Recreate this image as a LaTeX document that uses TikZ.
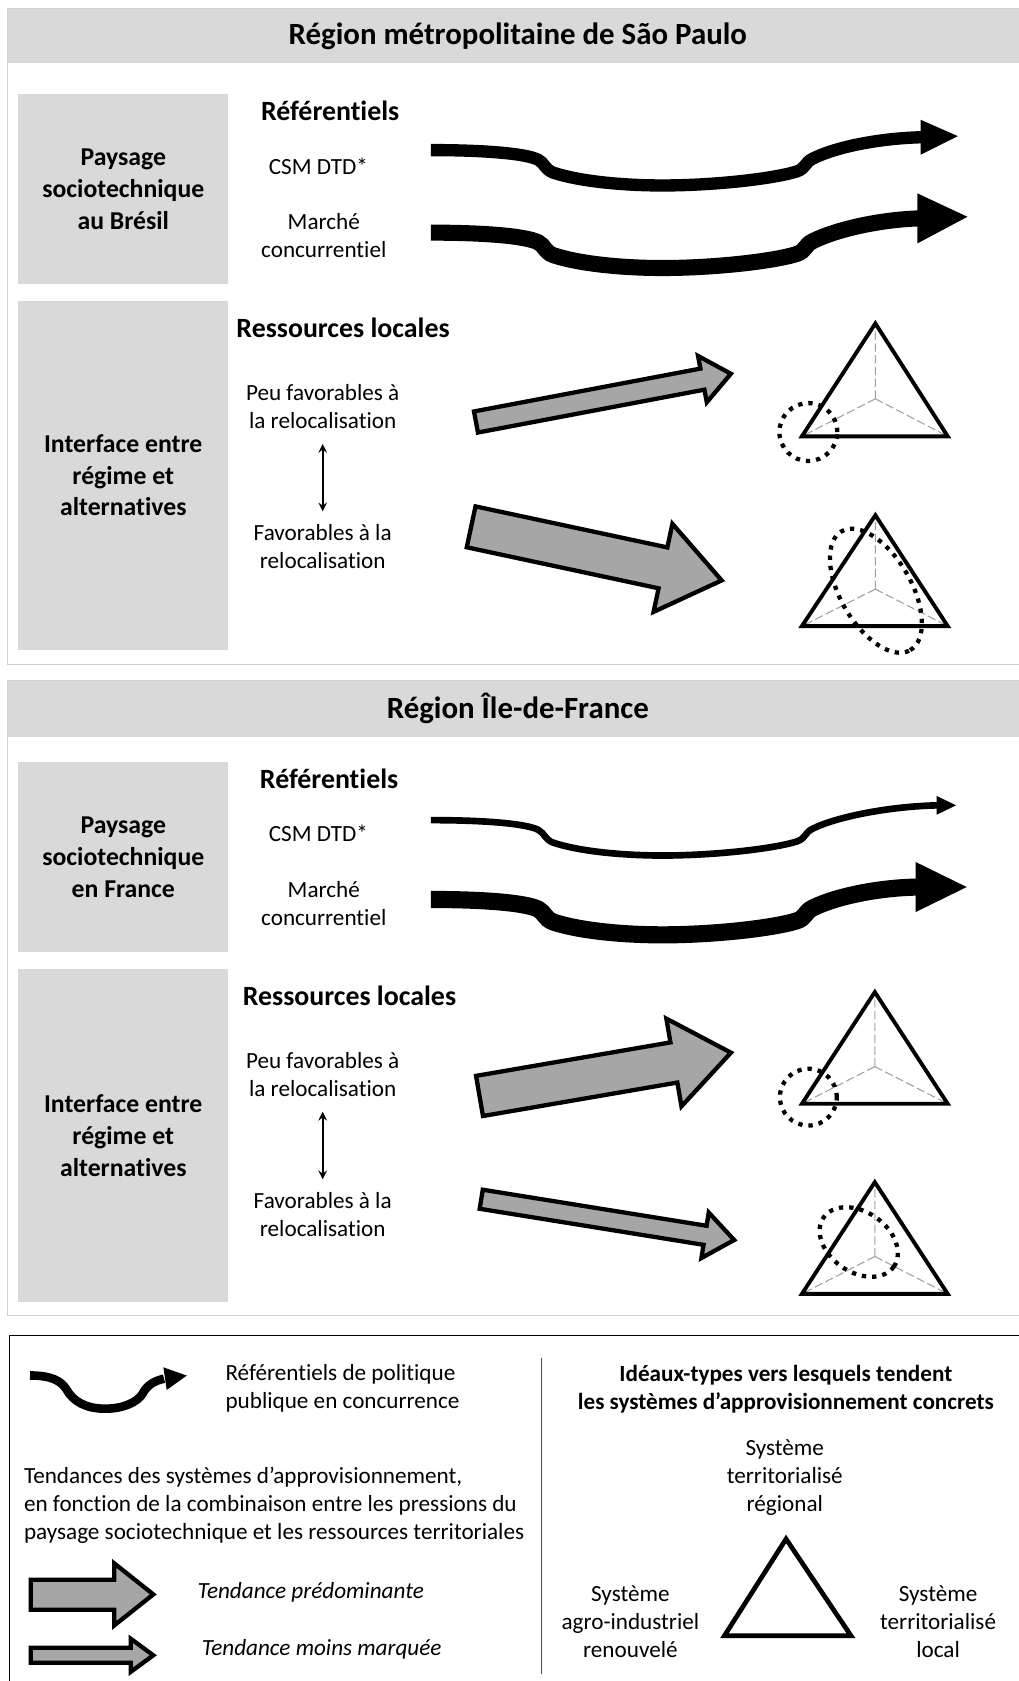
\documentclass[tikz,border=0pt]{standalone}
\usepackage{fontspec}
\setmainfont{Carlito}[Ligatures=NoCommon]
\usepackage{tikz}

\definecolor{grisclair}{HTML}{D9D9D9}
\definecolor{grisfleche}{HTML}{A6A6A6}
\definecolor{griscadre}{HTML}{D0D0D0}
\definecolor{grisaxe}{HTML}{A0A0A0}

\begin{document}
\begin{tikzpicture}[x=0.5pt, y=-0.5pt,
    titre/.style={font=\fontsize{14.4}{17}\selectfont\bfseries},
    soustitre/.style={font=\fontsize{13}{15.6}\selectfont\bfseries},
    boite/.style={fill=grisclair, minimum width=98pt, inner sep=0pt, align=center, font=\fontsize{12}{14.75}\selectfont\bfseries},
    texte/.style={font=\fontsize{10.8}{13.1}\selectfont, align=center, inner sep=0pt},
    fleche/.style={draw=black, line width=2pt, fill=grisfleche, line join=miter},
    pointille/.style={line width=2pt, dash pattern=on 2pt off 2.8pt},
    triangle/.style={line width=1.8pt, line join=miter},
    axe/.style={grisaxe, line width=0.5pt, dash pattern=on 3.9pt off 1.6pt}]

    \useasboundingbox (0,0) rectangle (950,1568);

    % Sao Paulo
    \fill[grisclair] (7,8) rectangle (960,59);
    \draw[griscadre, line width=0.5pt] (7,8) rectangle (960,620);
    \node[titre] (titreSP) at (483,34) {Région métropolitaine de São Paulo};
    \node[boite, minimum height=88.5pt] (paysageBR) at (115,176.5) {Paysage\\sociotechnique\\au Brésil};
    \node[boite, minimum height=162.5pt] (interfaceSP) at (115,443.5) {Interface entre\\régime et\\alternatives};
    \node[soustitre] (refSP) at (308,103) {Référentiels};
    \node[texte] (csmSP) at (297,155) {CSM DTD*};
    \node[texte] (marcheSP) at (302,220) {Marché\\concurrentiel};
    \node[soustitre] (ressSP) at (320,306) {Ressources locales};
    \node[texte] (peuSP) at (301,379) {Peu favorables à\\la relocalisation};
    \node[texte] (favSP) at (301,510) {Favorables à la\\relocalisation};
    \draw[<->, >=stealth, line width=0.8pt, shorten <=7pt, shorten >=6pt] (peuSP.south) -- (peuSP.south |- favSP.north);

    \begin{scope}[shift={(0,140)}]
        \draw[line width=5.75pt] (402,0) .. controls (450,0) and (490,3) .. (502,9)
            .. controls (508,12) and (508,18) .. (516,21)
            .. controls (540,29) and (580,33) .. (618,33)
            .. controls (665,33) and (720,27) .. (743,20)
            .. controls (752,17) and (750,12) .. (758,8)
            .. controls (780,-3) and (820,-11) .. (860,-12);
        \fill (858.7,-28.3) -- (893.5,-13) -- (858.7,4.3) -- cycle;
    \end{scope}
    \begin{scope}[shift={(0,217)}]
        \draw[line width=7.5pt] (402,0) .. controls (450,0) and (490,3) .. (502,9)
            .. controls (508,12) and (508,18) .. (516,21)
            .. controls (540,29) and (580,33) .. (618,33)
            .. controls (665,33) and (720,27) .. (743,20)
            .. controls (752,17) and (750,12) .. (758,8)
            .. controls (780,-3) and (820,-12) .. (857,-13.3);
        \fill (855.8,-36.6) -- (902.4,-14.8) -- (855.8,10) -- cycle;
    \end{scope}

    \begin{scope}[shift={(442,394)}, rotate=10.72]
        \draw[fleche] (2,-10) -- (217,-10) -- (217,-22) -- (244,0) -- (217,22) -- (217,10) -- (2,10) -- cycle;
    \end{scope}
    \begin{scope}[shift={(437.5,491)}, rotate=-12.07]
        \draw[fleche] (2,-19.5) -- (185,-19.5) -- (185,-42) -- (241,0) -- (185,42) -- (185,19.5) -- (2,19.5) -- cycle;
    \end{scope}

    \draw[axe] (816.5,372) -- (816.5,301.7) (816.5,372) -- (748,407) (816.5,372) -- (884,407);
    \draw[triangle] (816.5,301.7) -- (884,407) -- (748,407) -- cycle;
    \draw[pointille] (754,403) circle [radius=13.5pt];
    \draw[axe] (816.5,549.5) -- (816.5,480.6) (816.5,549.5) -- (748,584) (816.5,549.5) -- (884,584);
    \draw[triangle] (816.5,480.6) -- (884,584) -- (748,584) -- cycle;
    \draw[pointille, rotate around={-60:(817,551)}] (817,551) ellipse [x radius=32pt, y radius=16.5pt];

    % Ile-de-France
    \fill[grisclair] (7,634.6) rectangle (960,687.5);
    \draw[griscadre, line width=0.5pt] (7,634.6) rectangle (960,1227);
    \node[titre] (titreIDF) at (483,661) {Région Île-de-France};
    \node[boite, minimum height=88.5pt] (paysageFR) at (115,799.5) {Paysage\\sociotechnique\\en France};
    \node[boite, minimum height=155.5pt] (interfaceIDF) at (115,1059.2) {Interface entre\\régime et\\alternatives};
    \node[soustitre] (refIDF) at (307,726) {Référentiels};
    \node[texte] (csmIDF) at (297,777) {CSM DTD*};
    \node[texte] (marcheIDF) at (302,843) {Marché\\concurrentiel};
    \node[soustitre] (ressIDF) at (326,929) {Ressources locales};
    \node[texte] (peuIDF) at (301,1002) {Peu favorables à\\la relocalisation};
    \node[texte] (favIDF) at (301,1133) {Favorables à la\\relocalisation};
    \draw[<->, >=stealth, line width=0.8pt, shorten <=7pt, shorten >=6pt] (peuIDF.south) -- (peuIDF.south |- favIDF.north);

    \begin{scope}[shift={(0,765)}]
        \draw[line width=3.1pt] (402,0) .. controls (450,0) and (490,3) .. (502,9)
            .. controls (508,12) and (508,18) .. (516,21)
            .. controls (540,29) and (580,33) .. (618,33)
            .. controls (665,33) and (720,27) .. (743,20)
            .. controls (752,17) and (750,12) .. (758,8)
            .. controls (780,-3) and (830,-13) .. (875,-13.8);
        \fill (873.6,-22.6) -- (891.8,-13.8) -- (873.6,-5) -- cycle;
    \end{scope}
    \begin{scope}[shift={(0,839)}]
        \draw[line width=8pt] (402,0) .. controls (450,0) and (490,3) .. (502,9)
            .. controls (508,12) and (508,18) .. (516,21)
            .. controls (540,29) and (580,33) .. (618,33)
            .. controls (665,33) and (720,27) .. (743,20)
            .. controls (752,17) and (750,12) .. (758,8)
            .. controls (780,-3) and (820,-11) .. (856,-11.6);
        \fill (854,-35) -- (901.7,-11.6) -- (854,11.8) -- cycle;
    \end{scope}

    \begin{scope}[shift={(445.3,1022.6)}, rotate=9.77]
        \draw[fleche] (2,-19) -- (186,-19) -- (186,-41.5) -- (240,0) -- (186,41.5) -- (186,19) -- (2,19) -- cycle;
    \end{scope}
    \begin{scope}[shift={(446.9,1118.3)}, rotate=-9.15]
        \draw[fleche] (2,-9) -- (213.5,-9) -- (213.5,-21.5) -- (241,0) -- (213.5,21.5) -- (213.5,9) -- (2,9) -- cycle;
    \end{scope}

    \draw[axe] (816,994.9) -- (816,925.4) (816,994.9) -- (748,1029.6) (816,994.9) -- (884,1029.6);
    \draw[triangle] (816,925.4) -- (884,1029.6) -- (748,1029.6) -- cycle;
    \draw[pointille] (754,1023.4) circle [radius=13.25pt];
    \draw[axe] (816,1172) -- (816,1102.7) (816,1172) -- (748,1206.9) (816,1172) -- (884,1206.9);
    \draw[triangle] (816,1102.7) -- (884,1206.9) -- (748,1206.9) -- cycle;
    \draw[pointille, rotate around={-35:(801,1158.5)}] (801,1158.5) ellipse [x radius=20pt, y radius=14pt];

    % legende
    \draw[line width=0.5pt] (9,1246) rectangle (960,1580);
    \draw[black!70, line width=0.5pt] (505,1267) -- (505,1561);
    \draw[line width=4pt] (28,1283) .. controls (48,1283) and (57,1288) .. (62,1296)
        .. controls (68,1307) and (80,1314) .. (98,1314)
        .. controls (115,1314) and (128,1308) .. (133,1300)
        .. controls (137,1292) and (144,1288) .. (153,1286);
    \fill (152.4,1275.4) -- (174.2,1283.1) -- (155.5,1296.5) -- cycle;
    \node[texte, anchor=west, align=left] (legRef) at (210,1295) {Référentiels de politique\\publique en concurrence};
    \node[texte, anchor=west, align=left] (legTend) at (22,1404) {Tendances des systèmes d'approvisionnement,\\en fonction de la combinaison entre les pressions du\\paysage sociotechnique et les ressources territoriales};
    \draw[fleche] (28.7,1473.6) -- (106.5,1473.6) -- (106.5,1458.2) -- (143,1487.2) -- (106.5,1516.2) -- (106.5,1501.6) -- (28.7,1501.6) -- cycle;
    \draw[fleche] (28.7,1537) -- (122,1537) -- (122,1528.6) -- (143,1544) -- (122,1559.4) -- (122,1551) -- (28.7,1551) -- cycle;
    \node[texte, anchor=west, font=\fontsize{10.8}{13.1}\selectfont\itshape] (legPred) at (184,1485) {Tendance prédominante};
    \node[texte, anchor=west, font=\fontsize{10.8}{13.1}\selectfont\itshape] (legMoins) at (188,1538) {Tendance moins marquée};

    \node[texte, font=\fontsize{10.8}{13.1}\selectfont\bfseries] (legIdeaux) at (733,1296) {Idéaux-types vers lesquels tendent\\les systèmes d’approvisionnement concrets};
    \node[texte] (legRegional) at (732,1378) {Système\\territorialisé\\régional};
    \node[texte] (legAgro) at (588,1513) {Système\\agro-industriel\\renouvelé};
    \node[texte] (legLocal) at (875,1513) {Système\\territorialisé\\local};
    \draw[line width=2.2pt, line join=miter] (733.2,1435.5) -- (793.8,1525.8) -- (675.7,1525.8) -- cycle;
\end{tikzpicture}
\end{document}
